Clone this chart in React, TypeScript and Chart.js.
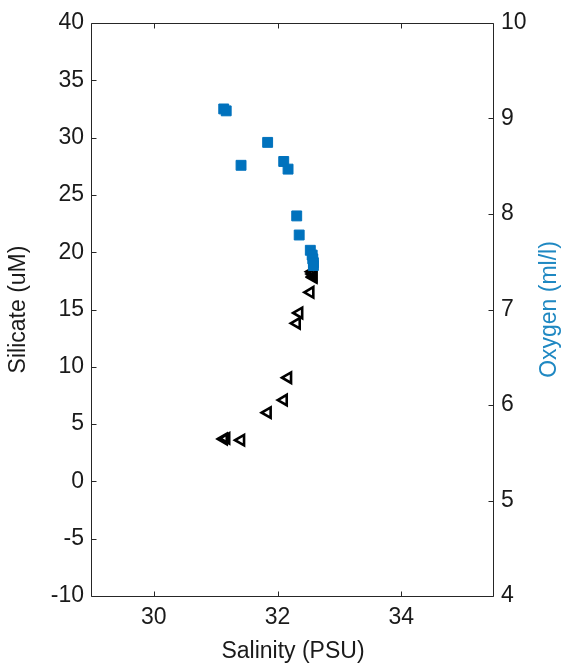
import React, { useEffect, useRef } from "react";
import { Chart, registerables } from "chart.js";

Chart.register(...registerables);

// Samples: salinity (PSU), silicate (uM), oxygen (ml/l)
const salinity = [31.13, 31.17, 31.41, 31.84, 32.1, 32.17, 32.31, 32.35, 32.53, 32.56, 32.57, 32.58, 32.58];
const silicate = [3.7, 3.75, 3.6, 6.0, 7.1, 9.05, 13.8, 14.7, 16.5, 18.3, 18.1, 17.9, 17.8];
const oxygen = [9.1, 9.08, 8.51, 8.75, 8.55, 8.47, 7.98, 7.78, 7.62, 7.57, 7.53, 7.49, 7.46];

const xTicks = [30, 32, 34];
const silicateTicks = [-10, -5, 0, 5, 10, 15, 20, 25, 30, 35, 40];
const oxygenTicks = [4, 5, 6, 7, 8, 9, 10];

const FONT_FAMILY = "Arial, 'Liberation Sans', Helvetica, sans-serif";
const TEXT_COLOR = "#1a1a1a";
const OXY_COLOR = "#0072BD";
const OXY_LABEL_COLOR = "#1f88c2";

const framePlugin = {
  id: "matlabFrame",
  afterDraw(chart: any) {
    const { ctx, chartArea, scales } = chart;
    const { left, right, top, bottom } = chartArea;
    const L = Math.round(left) - 0.5;
    const R = Math.round(right) - 0.5;
    const T = Math.round(top) + 0.5;
    const B = Math.round(bottom) + 0.5;
    const tl = 5;
    ctx.save();
    ctx.lineWidth = 1;
    ctx.strokeStyle = "#262626";
    ctx.beginPath();
    ctx.moveTo(L, T);
    ctx.lineTo(R, T);
    ctx.lineTo(R, B);
    ctx.lineTo(L, B);
    ctx.closePath();
    for (const v of xTicks) {
      const px = Math.round(scales.x.getPixelForValue(v)) + 0.5;
      ctx.moveTo(px, B);
      ctx.lineTo(px, B - tl);
      ctx.moveTo(px, T);
      ctx.lineTo(px, T + tl);
    }
    for (const v of silicateTicks) {
      const py = Math.round(scales.y.getPixelForValue(v)) + 0.5;
      ctx.moveTo(L, py);
      ctx.lineTo(L + tl, py);
    }
    for (const v of oxygenTicks) {
      const py = Math.round(scales.y2.getPixelForValue(v)) + 0.5;
      ctx.moveTo(R, py);
      ctx.lineTo(R - tl, py);
    }
    ctx.stroke();

    // right axis title, rotated like MATLAB (reads bottom to top)
    ctx.fillStyle = OXY_LABEL_COLOR;
    ctx.font = `23px ${FONT_FAMILY}`;
    ctx.textAlign = "center";
    ctx.textBaseline = "middle";
    ctx.translate(550, (top + bottom) / 2);
    ctx.rotate(-Math.PI / 2);
    ctx.fillText("Oxygen (ml/l)", 0, 0);
    ctx.restore();
  },
};

export default function App() {
  const canvasRef = useRef<HTMLCanvasElement | null>(null);

  useEffect(() => {
    const canvas = canvasRef.current;
    if (!canvas) return;
    const tickFont = { size: 23, family: FONT_FAMILY };
    const chart = new Chart(canvas, {
      type: "scatter",
      data: {
        datasets: [
          {
            label: "Oxygen",
            data: salinity.map((s, i) => ({ x: s, y: oxygen[i] })),
            yAxisID: "y2",
            xAxisID: "x",
            pointStyle: "rect",
            pointRadius: 7,
            pointBorderWidth: 1,
            backgroundColor: OXY_COLOR,
            borderColor: OXY_COLOR,
            showLine: false,
          },
          {
            label: "Silicate",
            data: salinity.map((s, i) => ({ x: s, y: silicate[i] })),
            yAxisID: "y",
            xAxisID: "x",
            pointStyle: "triangle",
            pointRotation: -90,
            pointRadius: 6,
            pointBorderWidth: 2.6,
            backgroundColor: "rgba(0,0,0,0)",
            borderColor: "#000000",
            showLine: false,
          },
        ],
      },
      options: {
        responsive: false,
        animation: false,
        devicePixelRatio: 1,
        layout: { padding: { top: 23, left: 0, right: 0, bottom: 0 } },
        plugins: {
          legend: { display: false },
          tooltip: { enabled: false },
        },
        scales: {
          x: {
            type: "linear",
            position: "bottom",
            min: 29,
            max: 35.5,
            grid: { display: false, drawTicks: false },
            border: { display: false },
            ticks: { font: tickFont, color: TEXT_COLOR, padding: 8, autoSkip: false, maxRotation: 0 },
            title: {
              display: true,
              text: "Salinity (PSU)",
              font: tickFont,
              color: TEXT_COLOR,
              padding: { top: 0, bottom: 3 },
            },
            afterBuildTicks: (s: any) => {
              s.ticks = xTicks.map((v) => ({ value: v }));
            },
            afterFit: (s: any) => {
              s.height = 72;
            },
          },
          y: {
            type: "linear",
            position: "left",
            min: -10,
            max: 40,
            grid: { display: false, drawTicks: false },
            border: { display: false },
            ticks: { font: tickFont, color: TEXT_COLOR, padding: 8, autoSkip: false },
            title: {
              display: true,
              text: "Silicate (uM)",
              font: tickFont,
              color: TEXT_COLOR,
              padding: { top: 5, bottom: 0 },
            },
            afterBuildTicks: (s: any) => {
              s.ticks = silicateTicks.map((v) => ({ value: v }));
            },
            afterFit: (s: any) => {
              s.width = 92;
            },
          },
          y2: {
            type: "linear",
            position: "right",
            min: 4,
            max: 10,
            grid: { display: false, drawTicks: false },
            border: { display: false },
            ticks: { font: tickFont, color: TEXT_COLOR, padding: 7, autoSkip: false },
            afterBuildTicks: (s: any) => {
              s.ticks = oxygenTicks.map((v) => ({ value: v }));
            },
            afterFit: (s: any) => {
              s.width = 75;
            },
          },
        },
      },
      plugins: [framePlugin],
    });
    return () => chart.destroy();
  }, []);

  return (
    <div style={{ position: "absolute", left: 0, top: 0, width: 569, height: 668, background: "#fff" }}>
      <canvas ref={canvasRef} width={569} height={668} style={{ display: "block" }} />
    </div>
  );
}
